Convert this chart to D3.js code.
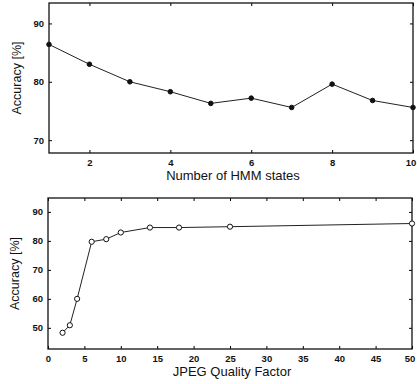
<!DOCTYPE html>
<html>
<head>
<meta charset="utf-8">
<script src="https://cdn.jsdelivr.net/npm/d3@7"></script>
<style>
body { margin: 0; background: #fff; }
svg text { font-family: "Liberation Sans", Arial, sans-serif; fill: #111; }
.tick text { font-size: 9.5px; font-weight: bold; }
.title { font-size: 13px; }
.ytitle { font-size: 12.5px; }
</style>
</head>
<body>
<svg id="chart" width="417" height="384"></svg>
<script>
// top panel: accuracy vs number of HMM states
var hmmStates = [1, 2, 3, 4, 5, 6, 7, 8, 9, 10];
var hmmAccuracy = [86.4, 83.0, 80.0, 78.3, 76.3, 77.2, 75.6, 79.6, 76.8, 75.6];
var hmmXTicks = [2, 4, 6, 8, 10];
var hmmYTicks = [70, 80, 90];

// bottom panel: accuracy vs JPEG quality factor
var jpegQuality = [2, 3, 4, 6, 8, 10, 14, 18, 25, 50];
var jpegAccuracy = [48.3, 50.9, 60.0, 79.7, 80.6, 82.9, 84.6, 84.6, 84.9, 86.0];
var jpegXTicks = [0, 5, 10, 15, 20, 25, 30, 35, 40, 45, 50];
var jpegYTicks = [50, 60, 70, 80, 90];

var svg = d3.select("#chart");

function panel(opts) {
    var g = svg.append("g");
    var x = d3.scaleLinear().domain(opts.xdom).range([opts.left, opts.right]);
    var y = d3.scaleLinear().domain(opts.ydom).range([opts.bottom, opts.top]);

    // inside ticks on all four sides, labels only bottom/left
    var xb = g.append("g").attr("transform", "translate(0," + opts.bottom + ")")
        .call(d3.axisBottom(x).tickValues(opts.xticks).tickSizeInner(-3).tickSizeOuter(0).tickPadding(6).tickFormat(d3.format("d")))
        .call(function(a) { a.select(".domain").remove(); });
    // keep the last label inside the page
    xb.selectAll(".tick text").filter(function(d, i, n) { return i === n.length - 1; })
        .attr("dx", -2.5);
    g.append("g").attr("transform", "translate(0," + opts.top + ")")
        .call(d3.axisTop(x).tickValues(opts.xticks).tickSizeInner(-3).tickSizeOuter(0).tickFormat(""))
        .call(function(a) { a.select(".domain").remove(); });
    g.append("g").attr("transform", "translate(" + opts.left + ",0)")
        .call(d3.axisLeft(y).tickValues(opts.yticks).tickSizeInner(-3).tickSizeOuter(0).tickPadding(5).tickFormat(d3.format("d")))
        .call(function(a) { a.select(".domain").remove(); });
    g.append("g").attr("transform", "translate(" + opts.right + ",0)")
        .call(d3.axisRight(y).tickValues(opts.yticks).tickSizeInner(-3).tickSizeOuter(0).tickFormat(""))
        .call(function(a) { a.select(".domain").remove(); });

    g.append("rect")
        .attr("x", opts.left).attr("y", opts.top)
        .attr("width", opts.right - opts.left).attr("height", opts.bottom - opts.top)
        .attr("fill", "none").attr("stroke", "#111").attr("stroke-width", 1.3);

    var line = d3.line().x(function(d, i) { return x(opts.xs[i]); }).y(function(d) { return y(d); });
    g.append("path").datum(opts.ys)
        .attr("d", line).attr("fill", "none").attr("stroke", "#222").attr("stroke-width", 1);

    g.selectAll("circle.pt").data(opts.ys).enter().append("circle")
        .attr("class", "pt")
        .attr("cx", function(d, i) { return x(opts.xs[i]); })
        .attr("cy", function(d) { return y(d); })
        .attr("r", opts.filled ? 2.3 : 2.6)
        .attr("fill", opts.filled ? "#111" : "#fff")
        .attr("stroke", "#111").attr("stroke-width", 1);

    g.append("text").attr("class", "title")
        .attr("x", (opts.left + opts.right) / 2 + 2).attr("y", opts.bottom + 27)
        .attr("text-anchor", "middle").text(opts.xlabel);
    g.append("text").attr("class", "ytitle")
        .attr("transform", "translate(" + opts.ylabelX + "," + ((opts.top + opts.bottom) / 2) + ") rotate(-90)")
        .attr("text-anchor", "middle").text("Accuracy [%]");
}

panel({
    xs: hmmStates, ys: hmmAccuracy, xdom: [1, 10], ydom: [67.8, 93.5],
    xticks: hmmXTicks, yticks: hmmYTicks,
    left: 49, right: 413, top: 3, bottom: 153,
    filled: true, xlabel: "Number of HMM states", ylabelX: 21
});

panel({
    xs: jpegQuality, ys: jpegAccuracy, xdom: [0, 50], ydom: [42.7, 94.8],
    xticks: jpegXTicks, yticks: jpegYTicks,
    left: 48, right: 412, top: 198, bottom: 349,
    filled: false, xlabel: "JPEG Quality Factor", ylabelX: 19
});
</script>
</body>
</html>
